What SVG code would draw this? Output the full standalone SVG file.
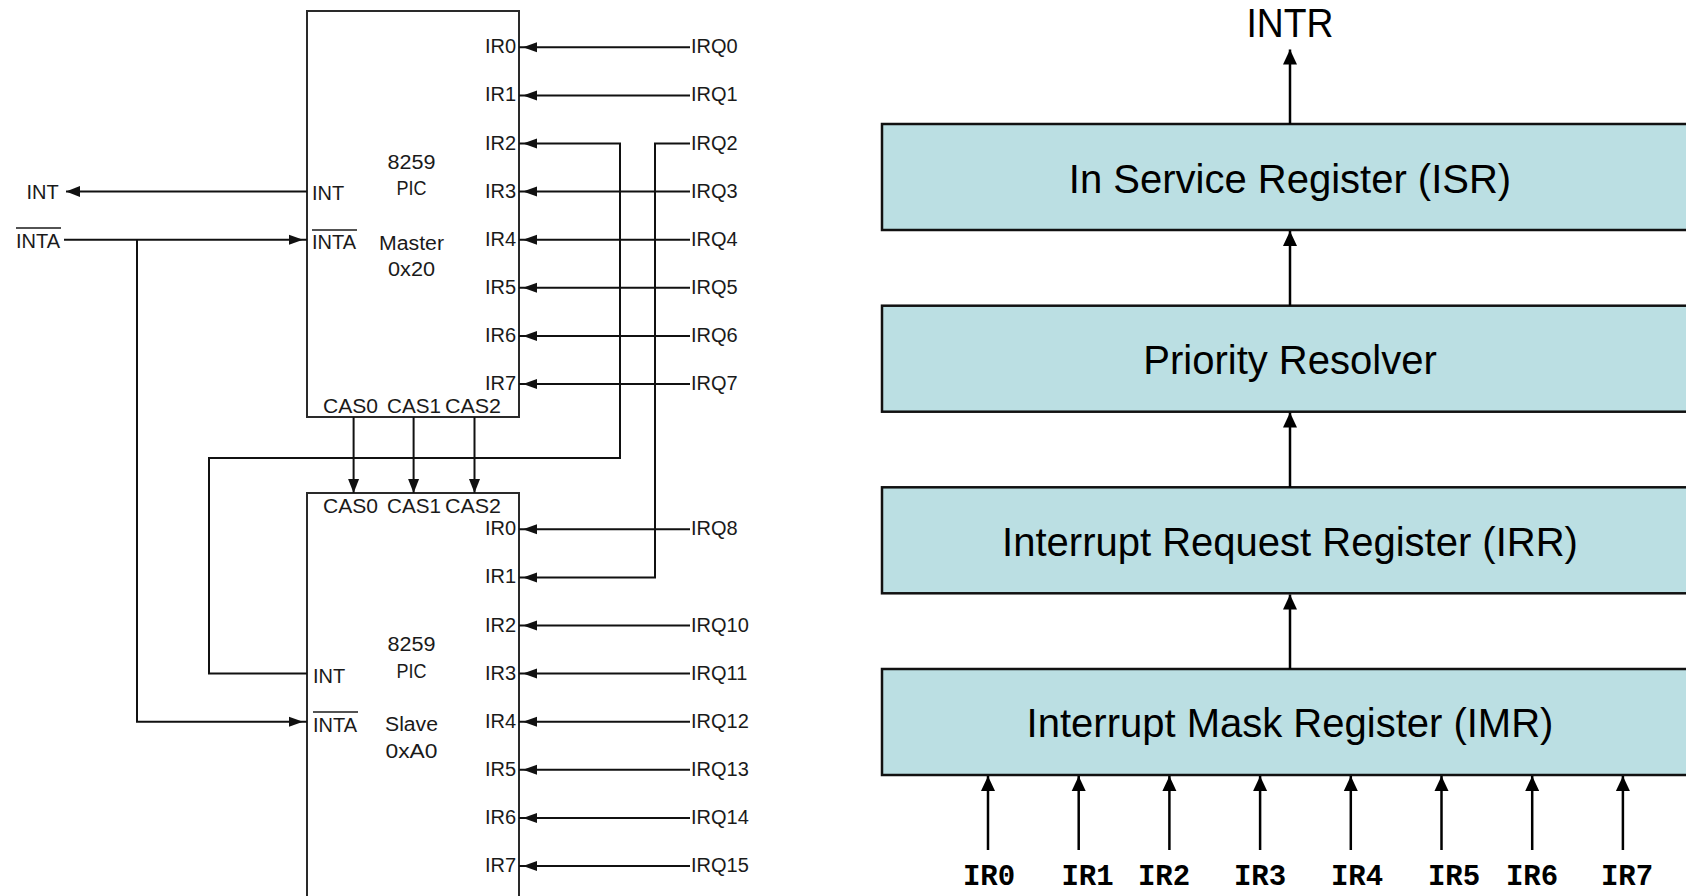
<svg xmlns="http://www.w3.org/2000/svg" width="1686" height="896" viewBox="0 0 1686 896">
<defs>
<style>
.box{fill:#fff;stroke:#2a2a2a;stroke-width:2}
.w{fill:none;stroke:#111;stroke-width:2}
.t{font-family:"Liberation Sans",Arial,sans-serif;font-size:20px;fill:#1a1a1a}
.e{text-anchor:end}
.m{text-anchor:middle}
.ol{stroke:#1a1a1a;stroke-width:1.5}
.reg{fill:#BBDFE3;stroke:#111;stroke-width:2.5}
.rt{font-family:"Liberation Sans",Arial,sans-serif;font-size:40px;fill:#000;text-anchor:middle}
.ir{font-family:"Liberation Mono","Courier New",monospace;font-weight:bold;font-size:29px;fill:#000;text-anchor:middle}
.a{fill:none;stroke:#000;stroke-width:2.5}
</style>
<marker id="pin" markerUnits="userSpaceOnUse" markerWidth="20" markerHeight="12" viewBox="0 -6 20 12" refX="18" refY="0" orient="auto"><path d="M0,-5 L14,0 L0,5 z" fill="#111"/></marker>
<marker id="tip" markerUnits="userSpaceOnUse" markerWidth="16" markerHeight="12" viewBox="0 -6 16 12" refX="14" refY="0" orient="auto"><path d="M0,-5.5 L14,0 L0,5.5 z" fill="#111"/></marker>
<marker id="big" markerUnits="userSpaceOnUse" markerWidth="16" markerHeight="16" viewBox="0 -8 16 16" refX="15" refY="0" orient="auto"><path d="M0,-7 L15,0 L0,7 z" fill="#000"/></marker>
</defs>
<rect width="1686" height="896" fill="#fff"/>

<g id="master">
<rect class="box" x="307" y="11" width="212" height="406"/>
<text class="t m" x="411.5" y="168.5" textLength="48" lengthAdjust="spacingAndGlyphs">8259</text>
<text class="t m" x="411.5" y="195" textLength="30" lengthAdjust="spacingAndGlyphs">PIC</text>
<text class="t m" x="411.5" y="250" textLength="65" lengthAdjust="spacingAndGlyphs">Master</text>
<text class="t m" x="411.5" y="275.5" textLength="47" lengthAdjust="spacingAndGlyphs">0x20</text>
<text class="t" x="312" y="200">INT</text>
<text class="t" x="312" y="249">INTA</text>
<line class="ol" x1="312" y1="230" x2="357" y2="230"/>
<text class="t e" x="516" y="53">IR0</text>
<text class="t e" x="516" y="101">IR1</text>
<text class="t e" x="516" y="149.5">IR2</text>
<text class="t e" x="516" y="197.5">IR3</text>
<text class="t e" x="516" y="245.5">IR4</text>
<text class="t e" x="516" y="293.5">IR5</text>
<text class="t e" x="516" y="342">IR6</text>
<text class="t e" x="516" y="390">IR7</text>
<text class="t" x="323" y="413.3" textLength="55" lengthAdjust="spacingAndGlyphs">CAS0</text>
<text class="t" x="387" y="413.3" textLength="54" lengthAdjust="spacingAndGlyphs">CAS1</text>
<text class="t" x="445" y="413.3" textLength="56" lengthAdjust="spacingAndGlyphs">CAS2</text>
</g>

<g id="slave">
<rect class="box" x="307" y="493" width="212" height="430"/>
<text class="t" x="323" y="512.7" textLength="55" lengthAdjust="spacingAndGlyphs">CAS0</text>
<text class="t" x="387" y="512.7" textLength="54" lengthAdjust="spacingAndGlyphs">CAS1</text>
<text class="t" x="445" y="512.7" textLength="56" lengthAdjust="spacingAndGlyphs">CAS2</text>
<text class="t m" x="411.5" y="651" textLength="48" lengthAdjust="spacingAndGlyphs">8259</text>
<text class="t m" x="411.5" y="677.5" textLength="30" lengthAdjust="spacingAndGlyphs">PIC</text>
<text class="t m" x="411.5" y="731" textLength="53" lengthAdjust="spacingAndGlyphs">Slave</text>
<text class="t m" x="411.5" y="757.5" textLength="52" lengthAdjust="spacingAndGlyphs">0xA0</text>
<text class="t" x="313" y="682.5">INT</text>
<text class="t" x="313" y="731.5">INTA</text>
<line class="ol" x1="313" y1="712" x2="358" y2="712"/>
<text class="t e" x="516" y="535">IR0</text>
<text class="t e" x="516" y="583">IR1</text>
<text class="t e" x="516" y="631.5">IR2</text>
<text class="t e" x="516" y="679.5">IR3</text>
<text class="t e" x="516" y="727.5">IR4</text>
<text class="t e" x="516" y="775.5">IR5</text>
<text class="t e" x="516" y="824">IR6</text>
<text class="t e" x="516" y="872">IR7</text>
</g>

<g id="ext-int"><text class="t" x="26.5" y="199">INT</text></g>
<g id="ext-inta"><text class="t" x="16" y="247.5">INTA</text><line class="ol" x1="16" y1="228" x2="61" y2="228"/></g>

<g id="irq-labels">
<text class="t" x="691" y="53">IRQ0</text>
<text class="t" x="691" y="101">IRQ1</text>
<text class="t" x="691" y="149.5">IRQ2</text>
<text class="t" x="691" y="197.5">IRQ3</text>
<text class="t" x="691" y="245.5">IRQ4</text>
<text class="t" x="691" y="293.5">IRQ5</text>
<text class="t" x="691" y="342">IRQ6</text>
<text class="t" x="691" y="390">IRQ7</text>
<text class="t" x="691" y="535">IRQ8</text>
<text class="t" x="691" y="631.5">IRQ10</text>
<text class="t" x="691" y="679.5">IRQ11</text>
<text class="t" x="691" y="727.5">IRQ12</text>
<text class="t" x="691" y="775.5">IRQ13</text>
<text class="t" x="691" y="824">IRQ14</text>
<text class="t" x="691" y="872">IRQ15</text>
</g>

<g id="isr"><rect class="reg" x="882" y="124" width="830" height="106"/><text class="rt" x="1290" y="192.5">In Service Register (ISR)</text></g>
<g id="pr"><rect class="reg" x="882" y="305.7" width="830" height="106"/><text class="rt" x="1290" y="374">Priority Resolver</text></g>
<g id="irr"><rect class="reg" x="882" y="487.3" width="830" height="106"/><text class="rt" x="1290" y="555.7">Interrupt Request Register (IRR)</text></g>
<g id="imr"><rect class="reg" x="882" y="669" width="830" height="106"/><text class="rt" x="1290" y="737.3">Interrupt Mask Register (IMR)</text></g>
<g id="intr"><text class="rt" x="1290" y="37.3" textLength="87" lengthAdjust="spacingAndGlyphs">INTR</text></g>
<g id="ir-inputs">
<text class="ir" x="989" y="885">IR0</text>
<text class="ir" x="1087.5" y="885">IR1</text>
<text class="ir" x="1164" y="885">IR2</text>
<text class="ir" x="1260" y="885">IR3</text>
<text class="ir" x="1357" y="885">IR4</text>
<text class="ir" x="1454" y="885">IR5</text>
<text class="ir" x="1532" y="885">IR6</text>
<text class="ir" x="1627" y="885">IR7</text>
</g>

<g id="connectors">
<path class="w" marker-end="url(#pin)" d="M690,47.3 H519"/>
<path class="w" marker-end="url(#pin)" d="M690,95.4 H519"/>
<path class="w" marker-end="url(#pin)" d="M307,673.6 H209 V458 H620 V143.5 H519"/>
<path class="w" marker-end="url(#pin)" d="M690,143.5 H655 V577.4 H519"/>
<path class="w" marker-end="url(#pin)" d="M690,191.6 H519"/>
<path class="w" marker-end="url(#pin)" d="M690,239.7 H519"/>
<path class="w" marker-end="url(#pin)" d="M690,287.8 H519"/>
<path class="w" marker-end="url(#pin)" d="M690,335.9 H519"/>
<path class="w" marker-end="url(#pin)" d="M690,384 H519"/>
<path class="w" marker-end="url(#pin)" d="M690,529.3 H519"/>
<path class="w" marker-end="url(#pin)" d="M690,625.5 H519"/>
<path class="w" marker-end="url(#pin)" d="M690,673.6 H519"/>
<path class="w" marker-end="url(#pin)" d="M690,721.7 H519"/>
<path class="w" marker-end="url(#pin)" d="M690,769.8 H519"/>
<path class="w" marker-end="url(#pin)" d="M690,817.9 H519"/>
<path class="w" marker-end="url(#pin)" d="M690,866 H519"/>
<path class="w" marker-end="url(#tip)" d="M307,191.6 H66"/>
<path class="w" marker-end="url(#pin)" d="M64,239.7 H307"/>
<path class="w" marker-end="url(#pin)" d="M137,239.7 V721.7 H307"/>
<path class="w" marker-end="url(#tip)" d="M353.6,417 V493"/>
<path class="w" marker-end="url(#tip)" d="M413.6,417 V493"/>
<path class="w" marker-end="url(#tip)" d="M474.5,417 V493"/>
<path class="a" marker-end="url(#big)" d="M1290,124 V49.5"/>
<path class="a" marker-end="url(#big)" d="M1290,305.7 V231"/>
<path class="a" marker-end="url(#big)" d="M1290,487.3 V412.5"/>
<path class="a" marker-end="url(#big)" d="M1290,669 V594.5"/>
<path class="a" marker-end="url(#big)" d="M988,850 V776"/>
<path class="a" marker-end="url(#big)" d="M1078.7,850 V776"/>
<path class="a" marker-end="url(#big)" d="M1169.4,850 V776"/>
<path class="a" marker-end="url(#big)" d="M1260.1,850 V776"/>
<path class="a" marker-end="url(#big)" d="M1350.8,850 V776"/>
<path class="a" marker-end="url(#big)" d="M1441.5,850 V776"/>
<path class="a" marker-end="url(#big)" d="M1532.2,850 V776"/>
<path class="a" marker-end="url(#big)" d="M1622.9,850 V776"/>
</g>
</svg>
